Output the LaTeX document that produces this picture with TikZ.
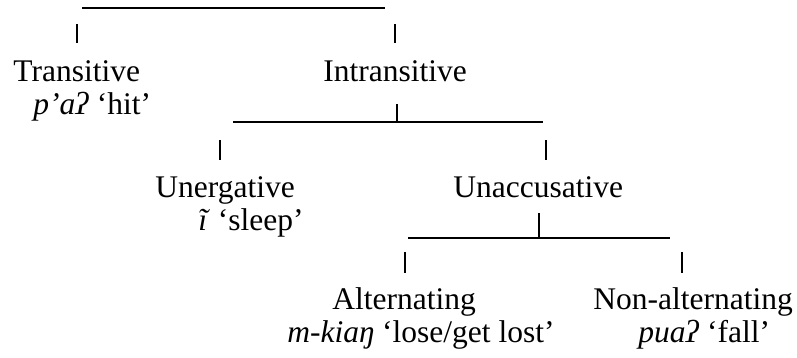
\documentclass[tikz,border=0pt]{standalone}
\usepackage{fontspec}
\setmainfont{Liberation Serif}
\usepackage{tikz}
\usetikzlibrary{positioning,calc}
\definecolor{Ink}{HTML}{000000}
\tikzset{
  lbl/.style={anchor=base west,inner sep=0pt,text=Ink,font=\fontsize{15.75}{16}\selectfont},
  gloss/.style={lbl},
  bar/.style={draw=Ink,line width=0.8pt},
  pipe/.style={draw=Ink,line width=1.1pt}
}
\begin{document}
\begin{tikzpicture}[x=0.5pt,y=-0.5pt]
\useasboundingbox (0,0) rectangle (797,358);
% labels
\node[lbl] (tr) at (13,82) {Transitive};
\node[gloss] (trg) at (33,115) {\textit{p’aʔ} ‘hit’};
\node[lbl] (in) at (323,82) {Intransitive};
\node[lbl] (ue) at (155,197) {Unergative};
\node[gloss] (ueg) at (198,230) {\textit{ĩ} ‘sleep’};
\node[lbl] (ua) at (453,197) {Unaccusative};
\node[lbl] (al) at (332,309) {Alternating};
\node[gloss] (alg) at (287,342) {\textit{m-kiaŋ} ‘lose/get lost’};
\node[lbl] (na) at (593,309) {Non-alternating};
\node[gloss] (nag) at (638,342) {\textit{puaʔ} ‘fall’};
% bars
\coordinate (b1l) at (82,8); \coordinate (b1r) at (385,8);
\coordinate (b2l) at (233,122); \coordinate (b2r) at (543,122);
\coordinate (b3l) at (408,238); \coordinate (b3r) at (670,238);
\draw[bar] (b1l)--(b1r);\draw[bar] (b2l)--(b2r);\draw[bar] (b3l)--(b3r);
% pipes
\foreach \n/\x/\ya/\yb in {p1/77/24/43,p2/395/24/43,p3/397/104/121,p4/220/140/160,p5/546/140/160,p6/539/213/237,p7/405/252/273,p8/682/252/273}{
  \coordinate (\n a) at (\x,\ya); \coordinate (\n b) at (\x,\yb);
  \draw[pipe] (\n a)--(\n b);
}
\end{tikzpicture}
\end{document}
